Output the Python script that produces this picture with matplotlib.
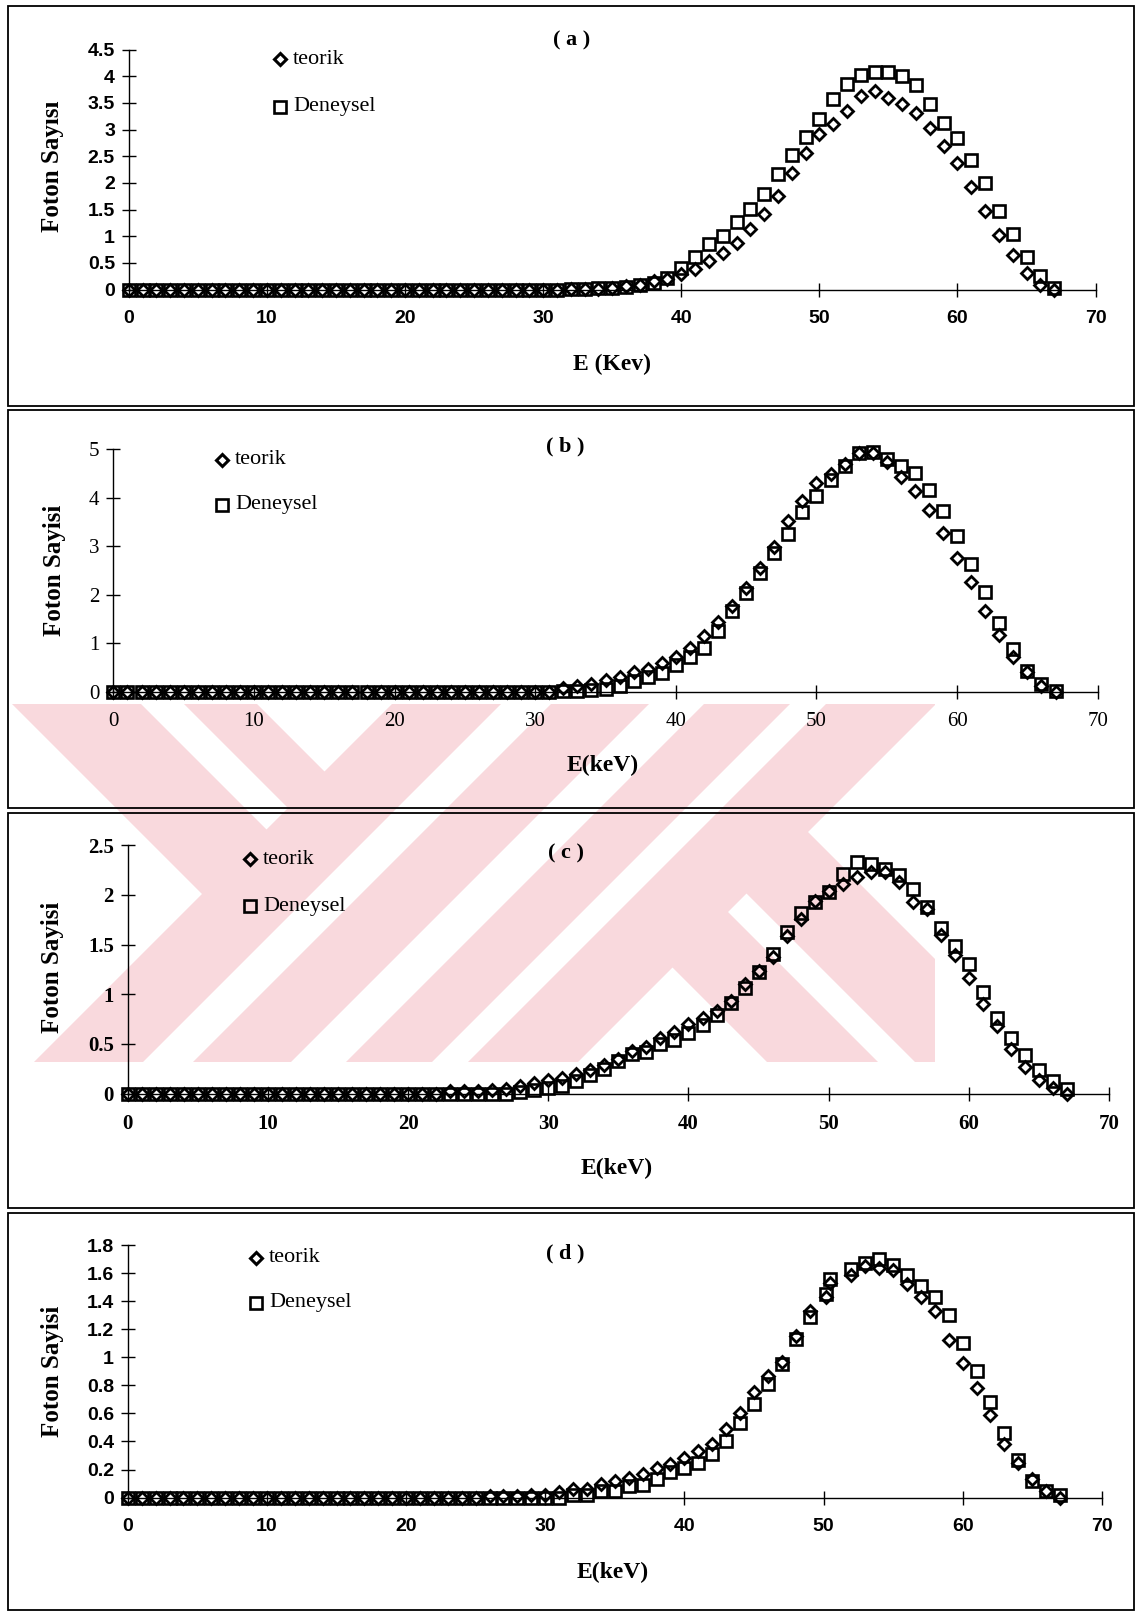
# Photon spectra: theoretical vs. measured, four panels
import matplotlib.pyplot as plt
from matplotlib.lines import Line2D
from matplotlib.patches import Polygon, Rectangle
from matplotlib.ticker import FuncFormatter, MultipleLocator

# Data (keV, photon counts)
Energy = list(range(68))
EnergyD = Energy[:50] + [50.2, 50.5] + Energy[52:]

TeorikA = [0.0] * 32 + [0.01, 0.02, 0.02, 0.03, 0.06, 0.09, 0.17, 0.20, 0.30, 0.38,
                        0.54, 0.68, 0.88, 1.14, 1.42, 1.75, 2.18, 2.56, 2.91, 3.11,
                        3.34, 3.62, 3.72, 3.60, 3.48, 3.31, 3.03, 2.69, 2.38, 1.92,
                        1.47, 1.02, 0.64, 0.32, 0.09, 0.0]
DeneyselA = [0.0] * 32 + [0.01, 0.02, 0.03, 0.03, 0.05, 0.08, 0.12, 0.22, 0.40, 0.61,
                          0.85, 1.01, 1.26, 1.51, 1.79, 2.16, 2.52, 2.86, 3.20, 3.58,
                          3.85, 4.02, 4.08, 4.07, 4.00, 3.83, 3.47, 3.12, 2.84, 2.43,
                          1.99, 1.48, 1.04, 0.61, 0.25, 0.03]

TeorikB = [0.0] * 32 + [0.08, 0.12, 0.15, 0.24, 0.31, 0.40, 0.47, 0.59, 0.71, 0.91,
                        1.15, 1.43, 1.77, 2.14, 2.55, 2.99, 3.52, 3.93, 4.31, 4.50,
                        4.69, 4.92, 4.92, 4.73, 4.44, 4.15, 3.75, 3.28, 2.76, 2.27,
                        1.67, 1.17, 0.71, 0.40, 0.12, 0.0]
DeneyselB = [0.0] * 32 + [0.01, 0.02, 0.04, 0.06, 0.12, 0.22, 0.31, 0.38, 0.54, 0.71,
                          0.91, 1.25, 1.66, 2.03, 2.44, 2.86, 3.25, 3.71, 4.04, 4.36,
                          4.66, 4.92, 4.95, 4.80, 4.66, 4.52, 4.17, 3.73, 3.21, 2.64,
                          2.06, 1.41, 0.87, 0.42, 0.15, 0.01]

TeorikC = [0.0] * 23 + [0.03, 0.03, 0.03, 0.04, 0.05, 0.08, 0.11, 0.14, 0.16, 0.20,
                        0.24, 0.29, 0.35, 0.43, 0.47, 0.56, 0.62, 0.70, 0.76, 0.83,
                        0.93, 1.10, 1.23, 1.37, 1.59, 1.76, 1.94, 2.04, 2.11, 2.18,
                        2.23, 2.23, 2.13, 1.93, 1.86, 1.60, 1.39, 1.16, 0.90, 0.68,
                        0.45, 0.27, 0.14, 0.06, 0.0]
DeneyselC = [0.0] * 28 + [0.02, 0.04, 0.06, 0.08, 0.13, 0.19, 0.25, 0.33, 0.40, 0.42,
                          0.50, 0.54, 0.61, 0.69, 0.79, 0.91, 1.06, 1.22, 1.40, 1.63,
                          1.82, 1.93, 2.03, 2.21, 2.33, 2.31, 2.26, 2.20, 2.06, 1.88,
                          1.67, 1.49, 1.30, 1.02, 0.76, 0.56, 0.39, 0.24, 0.13, 0.05]

TeorikD = [0.0] * 26 + [0.01, 0.01, 0.01, 0.015, 0.02, 0.04, 0.06, 0.06, 0.10, 0.12,
                        0.14, 0.17, 0.21, 0.24, 0.28, 0.33, 0.38, 0.49, 0.60, 0.75,
                        0.87, 0.97, 1.15, 1.33, 1.43, 1.53, 1.59, 1.65, 1.64, 1.62,
                        1.52, 1.43, 1.33, 1.12, 0.96, 0.78, 0.59, 0.38, 0.25, 0.13,
                        0.05, 0.0]
DeneyselD = [0.0] * 32 + [0.02, 0.02, 0.05, 0.05, 0.08, 0.09, 0.13, 0.18, 0.21, 0.25,
                          0.31, 0.40, 0.53, 0.67, 0.81, 0.95, 1.13, 1.29, 1.45, 1.56,
                          1.63, 1.67, 1.70, 1.66, 1.59, 1.51, 1.43, 1.30, 1.10, 0.90,
                          0.68, 0.46, 0.27, 0.12, 0.05, 0.02]

W, H = 1141, 1616
SANS = 'Liberation Sans'
SERIF = 'Liberation Serif'

fig = plt.figure(figsize=(W / 100, H / 100), dpi=100)


def fx(x):
    return x / W


def fy(y):
    return 1 - y / H


# ---- pink background stamp: slanted bars with chevron arms ----
Y0, Y1 = 704, 1062
SPAN = Y1 - Y0
PINK = '#f9d9dd'


def to_fig(pts):
    return [(fx(x), fy(y)) for x, y in pts]


def bar_up(xtop, w):
    # "/" bar running full height
    return [(xtop, Y0), (xtop + w, Y0), (xtop + w - SPAN, Y1), (xtop - SPAN, Y1)]


def arm_left(xtop, w, xstop):
    # "\" arm from the top edge until it meets the "/" line through xstop
    tl = (xstop - xtop) / 2
    tr = (xstop - xtop - w) / 2
    return [(xtop, Y0), (xtop + w, Y0), (xtop + w + tr, Y0 + tr), (xtop + tl, Y0 + tl)]


def arm_right(xtop, w, xstart):
    # "\" arm that grows out of the "/" line through xstart and runs to the bottom
    tl = (xstart - xtop) / 2
    tr = (xstart - xtop - w) / 2
    return [(xtop + tl, Y0 + tl), (xtop + w + tr, Y0 + tr),
            (xtop + w + SPAN, Y1), (xtop + SPAN, Y1)]


clip = Rectangle((fx(10), fy(Y1)), fx(935) - fx(10), fy(Y0) - fy(Y1),
                 transform=fig.transFigure, visible=False)
fig.add_artist(clip)

bars = [(392, 109), (551, 98), (704, 86), (826, 110)]
shapes = [bar_up(x, w) for x, w in bars]
s1_mid = bars[0][0] + bars[0][1] / 2
s4_mid = bars[3][0] + bars[3][1] / 2
shapes += [arm_left(12, 129, s1_mid), arm_left(184, 73, s1_mid)]
shapes += [arm_right(409, 111, s4_mid), arm_right(557, 123, s4_mid)]
for pts in shapes:
    p = Polygon(to_fig(pts), closed=True, transform=fig.transFigure,
                facecolor=PINK, edgecolor='none', zorder=0)
    p.set_clip_path(clip)
    fig.add_artist(p)


def fmt(v, pos):
    return '%g' % round(v, 2)


def panel(frame, axbox, ymax, ystep, E, teorik, deneysel, tag, tagpos,
          ylabel, ylabpos, xlabel, xlabpos, legpos, tickfont, ticksize, tickweight):
    # frame around the panel
    fl, ft, fr, fb = frame
    fig.add_artist(Rectangle((fx(fl), fy(fb)), fx(fr) - fx(fl), fy(ft) - fy(fb),
                             transform=fig.transFigure, fill=False,
                             edgecolor='black', linewidth=1.3, zorder=1))
    l, t, r, b = axbox
    ax = fig.add_axes([fx(l), fy(b), fx(r) - fx(l), fy(t) - fy(b)])
    ax.set_facecolor('none')
    ax.plot(E, teorik, linestyle='none', marker='D', ms=6.4, mfc='none',
            mec='black', mew=2.0, clip_on=False, zorder=3)
    ax.plot(E, deneysel, linestyle='none', marker='s', ms=8.8, mfc='none',
            mec='black', mew=1.9, clip_on=False, zorder=3)
    ax.set_xlim(0, 70)
    ax.set_ylim(0, ymax)
    ax.xaxis.set_major_locator(MultipleLocator(10))
    ax.yaxis.set_major_locator(MultipleLocator(ystep))
    ax.yaxis.set_major_formatter(FuncFormatter(fmt))
    for side in ('top', 'right'):
        ax.spines[side].set_visible(False)
    for side in ('left', 'bottom'):
        ax.spines[side].set_linewidth(1.0)
    ax.tick_params(axis='both', direction='inout', length=10, width=1.0)
    ax.tick_params(axis='x', pad=10)
    ax.tick_params(axis='y', pad=5)
    for lab in ax.get_xticklabels() + ax.get_yticklabels():
        lab.set_fontfamily(tickfont)
        lab.set_fontsize(ticksize)
        lab.set_fontweight(tickweight)

    fig.text(fx(tagpos[0]), fy(tagpos[1]), tag, family=SERIF, weight='bold',
             fontsize=16, ha='center', va='center')
    fig.text(fx(ylabpos[0]), fy(ylabpos[1]), ylabel, family=SERIF, weight='bold',
             fontsize=18, rotation=90, ha='center', va='center')
    fig.text(fx(xlabpos[0]), fy(xlabpos[1]), xlabel, family=SERIF, weight='bold',
             fontsize=17, ha='center', va='center')

    # hand-placed legend
    lx, ly1, ly2 = legpos
    fig.add_artist(Line2D([fx(lx)], [fy(ly1)], transform=fig.transFigure,
                          marker='D', ms=6.4, mfc='none', mec='black', mew=2.2))
    fig.add_artist(Line2D([fx(lx)], [fy(ly2)], transform=fig.transFigure,
                          marker='s', ms=8.8, mfc='none', mec='black', mew=1.9))
    fig.text(fx(lx + 13), fy(ly1), 'teorik', family=SERIF, fontsize=16,
             ha='left', va='center')
    fig.text(fx(lx + 13), fy(ly2), 'Deneysel', family=SERIF, fontsize=16,
             ha='left', va='center')
    return ax


panel((8, 6, 1134, 406), (128.8, 49.5, 1095.6, 289.6), 4.5, 0.5,
      Energy, TeorikA, DeneyselA, '( a )', (572, 40),
      'Foton Sayısı', (52, 166), 'E (Kev)', (612, 364), (280, 59, 107),
      SANS, 14, 'bold')

panel((8, 410, 1134, 808), (113.4, 449.4, 1097.7, 691.6), 5, 1,
      Energy, TeorikB, DeneyselB, '( b )', (565, 446),
      'Foton Sayisi', (55, 570), 'E(keV)', (603, 765), (222, 460, 505),
      SERIF, 15, 'normal')

panel((8, 813, 1134, 1208), (127.8, 845.2, 1109.0, 1093.6), 2.5, 0.5,
      Energy, TeorikC, DeneyselC, '( c )', (566, 853),
      'Foton Sayisi', (52, 967), 'E(keV)', (617, 1168), (250, 859, 906),
      SERIF, 15, 'bold')

panel((8, 1213, 1134, 1610), (127.8, 1245.1, 1101.8, 1497.6), 1.8, 0.2,
      EnergyD, TeorikD, DeneyselD, '( d )', (565, 1253),
      'Foton Sayisi', (52, 1371), 'E(keV)', (613, 1572), (256, 1258, 1303),
      SANS, 14, 'bold')

fig.savefig('out.png', dpi=100)
